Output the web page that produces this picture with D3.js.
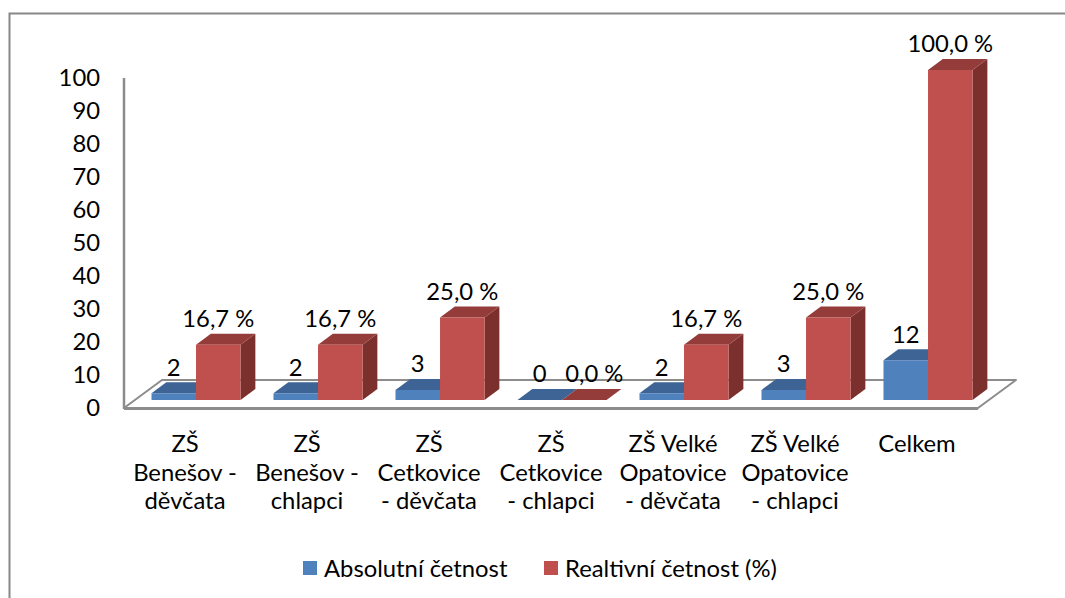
<!DOCTYPE html>
<html>
<head>
<meta charset="utf-8">
<script src="https://cdn.jsdelivr.net/npm/d3@7"></script>
<style>
	body{margin:0;background:#fff;}
	svg{display:block;font-family:Lato, "Open Sans", sans-serif;}
</style>
</head>
<body>
<div id="chart"></div>
<script>
// chart data
const categories = ['ZŠ Benešov - děvčata', 'ZŠ Benešov - chlapci', 'ZŠ Cetkovice - děvčata',
	'ZŠ Cetkovice - chlapci', 'ZŠ Velké Opatovice - děvčata', 'ZŠ Velké Opatovice - chlapci', 'Celkem'];
const categoryLines = [
	['ZŠ', 'Benešov -', 'děvčata'],
	['ZŠ', 'Benešov -', 'chlapci'],
	['ZŠ', 'Cetkovice', '- děvčata'],
	['ZŠ', 'Cetkovice', '- chlapci'],
	['ZŠ Velké', 'Opatovice', '- děvčata'],
	['ZŠ Velké', 'Opatovice', '- chlapci'],
	['Celkem']
];
const seriesNames = ['Absolutní četnost', 'Realtivní četnost (%)'];
const absoluteValues = [2, 2, 3, 0, 2, 3, 12];
const relativeValues = [16.7, 16.7, 25, 0, 16.7, 25, 100];
const yTickValues = [0, 10, 20, 30, 40, 50, 60, 70, 80, 90, 100];

const W = 1065, H = 598,
	floorDepth = {x: 38, y: -28},	// projection of the full floor depth
	barDepthFrom = 0.29,
	barDepthTo = 0.68,
	fontSize = 23.8,
	colors = [
		{front: '#4f81bd', top: '#3d6494', side: '#34567f'},
		{front: '#c0504d', top: '#943c3a', side: '#7c302e'}
	];

const fmtRel = v => d3.format('.1f')(v).replace('.', ',') + ' %';
const labelFormats = [v => String(v), fmtRel];

const svg = d3.select('#chart').append('svg').attr('width', W).attr('height', H);

// chart area border
svg.append('rect')
	.attr('x', 9.5).attr('y', 13.5)
	.attr('width', W + 20).attr('height', H + 20)
	.attr('fill', 'none').attr('stroke', '#888').attr('stroke-width', 2);

const scaleX = d3.scaleBand().domain(categories).range([124, 978]).paddingInner(0.27).paddingOuter(0.135);
const scaleSeries = d3.scaleBand().domain(d3.range(seriesNames.length)).range([0, scaleX.bandwidth()]);
const scaleY = d3.scaleLinear().domain([0, 100]).range([408, 78]);

// shift a point into depth d (0..1)
function proj(x, y, d){
	return [x + floorDepth.x * d, y + floorDepth.y * d];
}

// floor
const x0 = scaleX.range()[0], x1 = scaleX.range()[1], yBase = scaleY(0);
svg.append('polygon')
	.attr('points', [proj(x0, yBase, 0), proj(x1, yBase, 0), proj(x1, yBase, 1), proj(x0, yBase, 1)].map(p => p.join(',')).join(' '))
	.attr('fill', '#fff').attr('stroke', '#8c8c8c').attr('stroke-width', 2).attr('stroke-linejoin', 'round');
svg.append('line')
	.attr('x1', x0).attr('x2', x1).attr('y1', yBase + 0.5).attr('y2', yBase + 0.5)
	.attr('stroke', '#8c8c8c').attr('stroke-width', 3);

// value axis
svg.append('line')
	.attr('x1', x0).attr('x2', x0).attr('y1', scaleY(100)).attr('y2', yBase + 1)
	.attr('stroke', '#8c8c8c').attr('stroke-width', 2.5);
svg.append('g').selectAll('text')
	.data(yTickValues).join('text')
	.attr('x', 100).attr('y', d => scaleY(d))
	.attr('dy', '0.35em')
	.attr('text-anchor', 'end')
	.attr('font-size', fontSize).attr('fill', '#000')
	.text(d => d);

// bars, drawn left to right so that front faces cover the previous side faces
const bars = [];
categories.forEach(function(c, ci){
	[absoluteValues, relativeValues].forEach(function(vals, si){
		bars.push({cat: c, ci: ci, si: si, value: vals[ci]});
	});
});

const barG = svg.append('g');
bars.forEach(function(b){
	const xl = scaleX(b.cat) + scaleSeries(b.si),
		xr = xl + scaleSeries.bandwidth(),
		yt = scaleY(b.value), yb = scaleY(0),
		col = colors[b.si];
	const fl = proj(xl, yt, barDepthFrom), fr = proj(xr, yt, barDepthFrom),
		bl = proj(xl, yt, barDepthTo), br = proj(xr, yt, barDepthTo),
		fbr = proj(xr, yb, barDepthFrom), bbr = proj(xr, yb, barDepthTo),
		fbl = proj(xl, yb, barDepthFrom);
	const pts = arr => arr.map(p => p.join(',')).join(' ');
	// side
	barG.append('polygon').attr('points', pts([fr, br, bbr, fbr])).attr('fill', col.side);
	// top
	barG.append('polygon').attr('points', pts([fl, fr, br, bl])).attr('fill', col.top);
	// front
	if(b.value > 0){
		barG.append('polygon').attr('points', pts([fl, fr, fbr, fbl])).attr('fill', col.front);
	}
	b.labelX = (fl[0] + fr[0]) / 2;
	b.labelY = fl[1] - 17.5;
	// Excel nudges the label of a zero column right of its neighbour
	if(b.value === 0 && b.si === 1){
		b.labelX += 10;
	}
});

// data labels
svg.append('g').selectAll('text')
	.data(bars).join('text')
	.attr('x', d => d.labelX).attr('y', d => d.labelY)
	.attr('text-anchor', 'middle')
	.attr('font-size', fontSize).attr('fill', '#000')
	.text(d => labelFormats[d.si](d.value));

// category labels
const catG = svg.append('g');
categories.forEach(function(c, ci){
	const cx = scaleX(c) + scaleX.bandwidth() / 2;
	const t = catG.append('text')
		.attr('text-anchor', 'middle')
		.attr('font-size', fontSize).attr('fill', '#000');
	categoryLines[ci].forEach(function(line, li){
		t.append('tspan').attr('x', cx).attr('y', 452 + li * 28.5).text(line);
	});
});

// legend
const legendX = [303, 544];
const legendG = svg.append('g');
seriesNames.forEach(function(name, si){
	legendG.append('rect')
		.attr('x', legendX[si]).attr('y', 561)
		.attr('width', 14).attr('height', 14)
		.attr('fill', colors[si].front);
	legendG.append('text')
		.attr('x', legendX[si] + 21).attr('y', 577)
		.attr('font-size', fontSize).attr('fill', '#000')
		.text(name);
});
</script>
</body>
</html>
